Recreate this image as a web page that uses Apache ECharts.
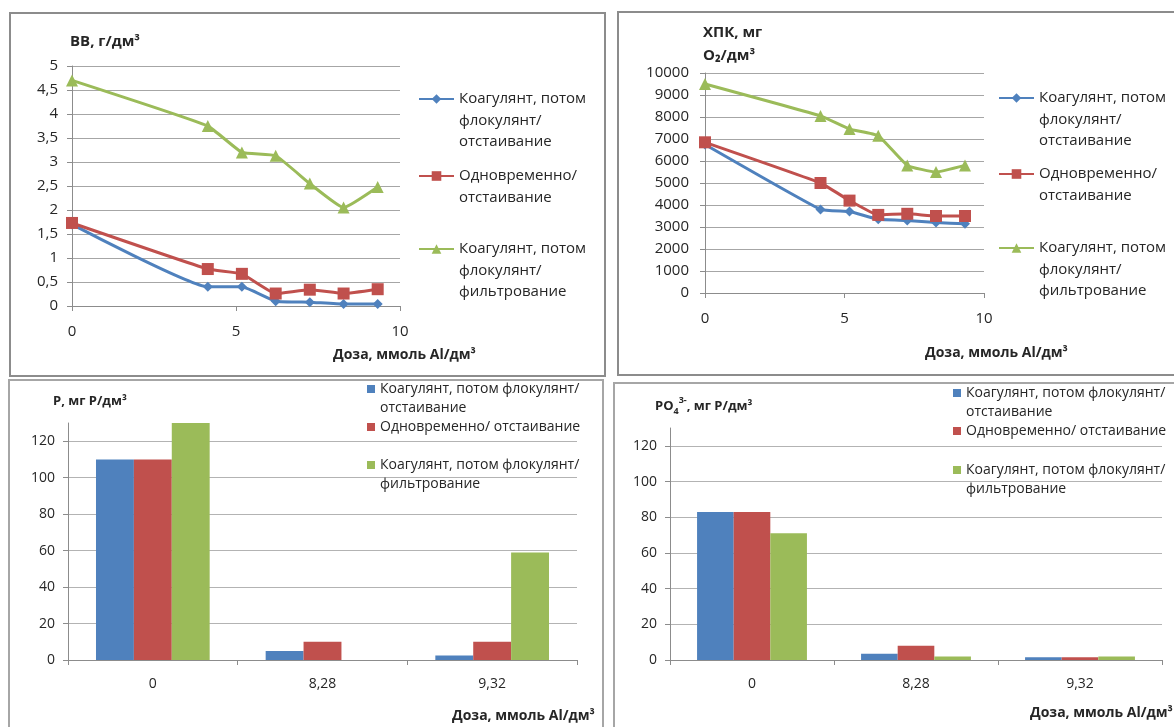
<!DOCTYPE html>
<html>
<head>
<meta charset="utf-8">
<script src="https://cdn.jsdelivr.net/npm/echarts@6/dist/echarts.min.js"></script>
<style>
  html, body { margin: 0; padding: 0; background: #ffffff; }
  #chart { width: 1174px; height: 727px; }
</style>
</head>
<body>
<div id="chart"></div>
<script>
// ---------- data ----------
const doseLine = [0, 4.14, 5.18, 6.21, 7.25, 8.28, 9.32];

const bbSeqSediment = [1.7, 0.4, 0.4, 0.1, 0.08, 0.04, 0.04];
const bbSimSediment = [1.73, 0.77, 0.67, 0.26, 0.34, 0.26, 0.35];
const bbSeqFilter = [4.7, 3.75, 3.2, 3.13, 2.55, 2.05, 2.48];

const codSeqSediment = [6750, 3800, 3700, 3350, 3300, 3200, 3150];
const codSimSediment = [6850, 5000, 4200, 3550, 3600, 3500, 3500];
const codSeqFilter = [9500, 8050, 7450, 7150, 5800, 5500, 5800];

const doseBarCategories = ['0', '8,28', '9,32'];
const pSeqSediment = [110, 5, 2.5];
const pSimSediment = [110, 10, 10];
const pSeqFilter = [130, 0, 59];

const po4SeqSediment = [83, 3.5, 1.5];
const po4SimSediment = [83, 8, 1.5];
const po4SeqFilter = [71, 2, 2];

const lineNames = [
  'Коагулянт, потом\nфлокулянт/\nотстаивание',
  'Одновременно/\nотстаивание',
  'Коагулянт, потом\nфлокулянт/\nфильтрование'
];
const barNames = [
  'Коагулянт, потом флокулянт/\nотстаивание',
  'Одновременно/ отстаивание',
  'Коагулянт, потом флокулянт/\nфильтрование'
];
const xTitle = 'Доза, ммоль Al/дм³';

// ---------- styles ----------
const FONT = '"Open Sans", "Noto Sans", sans-serif';
const COLORS = ['#4F81BD', '#C0504D', '#9BBB59'];
const TXT = '#262626';

function pairs(xs, ys) { return xs.map((x, i) => [x, ys[i]]); }
const comma = v => String(v).replace('.', ',');

// blank lines above the name keep the icon level with the first text line
function legendItem(name, iconY, nLines, left, LH, iconW, iconH, fs, icon) {
  return {
    left: left, top: iconY - (2 * nLines - 1) * LH / 2,
    orient: 'vertical', padding: 0, itemWidth: iconW, itemHeight: iconH, itemGap: 0,
    selectedMode: false, data: [icon ? { name: name, icon: icon } : name],
    formatter: n => '\n'.repeat(nLines - 1) + n,
    textStyle: { fontFamily: FONT, fontSize: fs, lineHeight: LH, color: TXT }
  };
}
function lineLegend(name, iconY, nLines, left) {
  return legendItem(name, iconY, nLines, left, 21.5, 35, 12, 15, null);
}
function barLegend(name, iconY, nLines, left) {
  return legendItem(name, iconY, nLines, left, 19, 8, 8, 14, 'rect');
}

function valueXAxis(gridIndex) {
  return {
    type: 'value', gridIndex, min: 0, max: 10, interval: 5,
    axisLine: { show: true, lineStyle: { color: '#8c8c8c', width: 1 } },
    axisTick: { show: true, length: 5, lineStyle: { color: '#8c8c8c' } },
    axisLabel: { fontFamily: FONT, fontSize: 15, color: TXT, margin: 18 },
    splitLine: { show: false }
  };
}
function valueYAxis(gridIndex, max, interval, margin, fs, gridColor) {
  return {
    type: 'value', gridIndex, min: 0, max, interval,
    axisLine: { show: true, lineStyle: { color: '#8c8c8c', width: 1 } },
    axisTick: { show: true, length: 5, lineStyle: { color: '#8c8c8c' } },
    axisLabel: { fontFamily: FONT, fontSize: fs, color: TXT, margin, formatter: comma, showMaxLabel: max % interval === 0 },
    splitLine: { show: true, showMaxLine: max % interval === 0, lineStyle: { color: gridColor, width: 1 } }
  };
}
function catXAxis(gridIndex) {
  return {
    type: 'category', gridIndex, data: doseBarCategories,
    axisLine: { show: true, lineStyle: { color: '#8c8c8c', width: 1 } },
    axisTick: { show: true, length: 5, lineStyle: { color: '#8c8c8c' } },
    axisLabel: { fontFamily: FONT, fontSize: 14, color: TXT, margin: 17 },
    splitLine: { show: false }
  };
}

const symbols = ['diamond', 'rect', 'triangle'];
const symbolSizes = [10, 12, 12];
function lineSeries(i, axisIndex, xs, ys) {
  return {
    type: 'line', name: lineNames[i], xAxisIndex: axisIndex, yAxisIndex: axisIndex,
    data: pairs(xs, ys), smooth: 0.12,
    symbol: symbols[i], symbolSize: symbolSizes[i], showSymbol: true,
    lineStyle: { color: COLORS[i], width: 3 },
    itemStyle: { color: COLORS[i] },
    z: 2 + i
  };
}
function barSeries(i, axisIndex, ys) {
  return {
    type: 'bar', name: barNames[i], xAxisIndex: axisIndex, yAxisIndex: axisIndex,
    data: ys, barGap: '0%', barCategoryGap: '33%',
    itemStyle: { color: COLORS[i] }
  };
}

function text(x, y, str, size, extra) {
  return Object.assign({
    type: 'text', x, y, silent: true,
    style: { text: str, fontFamily: FONT, fontSize: size, fontWeight: 'bold', fill: TXT, verticalAlign: 'middle' }
  }, extra || {});
}
function frame(x, y, w, h, color) {
  return { type: 'rect', silent: true, shape: { x, y, width: w, height: h },
           style: { fill: 'none', stroke: color, lineWidth: 2 } };
}

const option = {
  backgroundColor: '#ffffff',
  animation: false,
  grid: [
    { left: 72, top: 66, width: 328, height: 240 },
    { left: 705, top: 73, width: 279, height: 220 },
    { left: 68, top: 423, width: 509, height: 237 },
    { left: 670, top: 428, width: 492, height: 232 }
  ],
  xAxis: [valueXAxis(0), valueXAxis(1), catXAxis(2), catXAxis(3)],
  yAxis: [
    valueYAxis(0, 5, 0.5, 14, 15, '#a6a6a6'),
    valueYAxis(1, 10000, 1000, 16, 15, '#a6a6a6'),
    valueYAxis(2, 130, 20, 13, 14, '#b3b3b3'),
    valueYAxis(3, 130, 20, 13, 14, '#b3b3b3')
  ],
  legend: [
    lineLegend(lineNames[0], 99, 3, 418),
    lineLegend(lineNames[1], 176, 2, 418),
    lineLegend(lineNames[2], 249, 3, 418),
    lineLegend(lineNames[0], 98, 3, 998),
    lineLegend(lineNames[1], 174, 2, 998),
    lineLegend(lineNames[2], 248, 3, 998),
    barLegend(barNames[0], 389, 2, 367),
    barLegend(barNames[1], 427, 1, 367),
    barLegend(barNames[2], 465, 2, 367),
    barLegend(barNames[0], 393, 2, 953),
    barLegend(barNames[1], 431, 1, 953),
    barLegend(barNames[2], 470, 2, 953)
  ],
  series: [
    lineSeries(0, 0, doseLine, bbSeqSediment),
    lineSeries(1, 0, doseLine, bbSimSediment),
    lineSeries(2, 0, doseLine, bbSeqFilter),
    lineSeries(0, 1, doseLine, codSeqSediment),
    lineSeries(1, 1, doseLine, codSimSediment),
    lineSeries(2, 1, doseLine, codSeqFilter),
    barSeries(0, 2, pSeqSediment),
    barSeries(1, 2, pSimSediment),
    barSeries(2, 2, pSeqFilter),
    barSeries(0, 3, po4SeqSediment),
    barSeries(1, 3, po4SimSediment),
    barSeries(2, 3, po4SeqFilter)
  ],
  graphic: [
    frame(10, 13, 595, 363, '#8c8c8c'),
    frame(618, 12, 620, 363, '#8c8c8c'),
    frame(9, 380, 594, 400, '#a6a6a6'),
    frame(614, 383, 620, 400, '#a6a6a6'),
    text(70, 42, 'ВВ, г/дм³', 15),
    text(703, 33, 'ХПК, мг', 15),
    text(703, 56, 'O₂/дм³', 15),
    text(53, 401, 'P, мг P/дм³', 13),
    {
      type: 'text', x: 655, y: 406, silent: true,
      style: {
        text: '{b|PO}{sub|4}{sup|3-}{b|, мг P/дм³}',
        verticalAlign: 'middle',
        rich: {
          b: { fontFamily: FONT, fontSize: 13, fontWeight: 'bold', fill: TXT, lineHeight: 20, verticalAlign: 'middle' },
          sub: { fontFamily: FONT, fontSize: 9, fontWeight: 'bold', fill: TXT, lineHeight: 20, verticalAlign: 'bottom' },
          sup: { fontFamily: FONT, fontSize: 9, fontWeight: 'bold', fill: TXT, lineHeight: 20, verticalAlign: 'top' }
        }
      }
    },
    text(333, 355, xTitle, 14),
    text(925, 353, xTitle, 14),
    text(452, 716, xTitle, 14),
    text(1030, 713, xTitle, 14)
  ]
};

const chart = echarts.init(document.getElementById('chart'), null, { renderer: 'canvas' });
chart.setOption(option);
</script>
</body>
</html>
